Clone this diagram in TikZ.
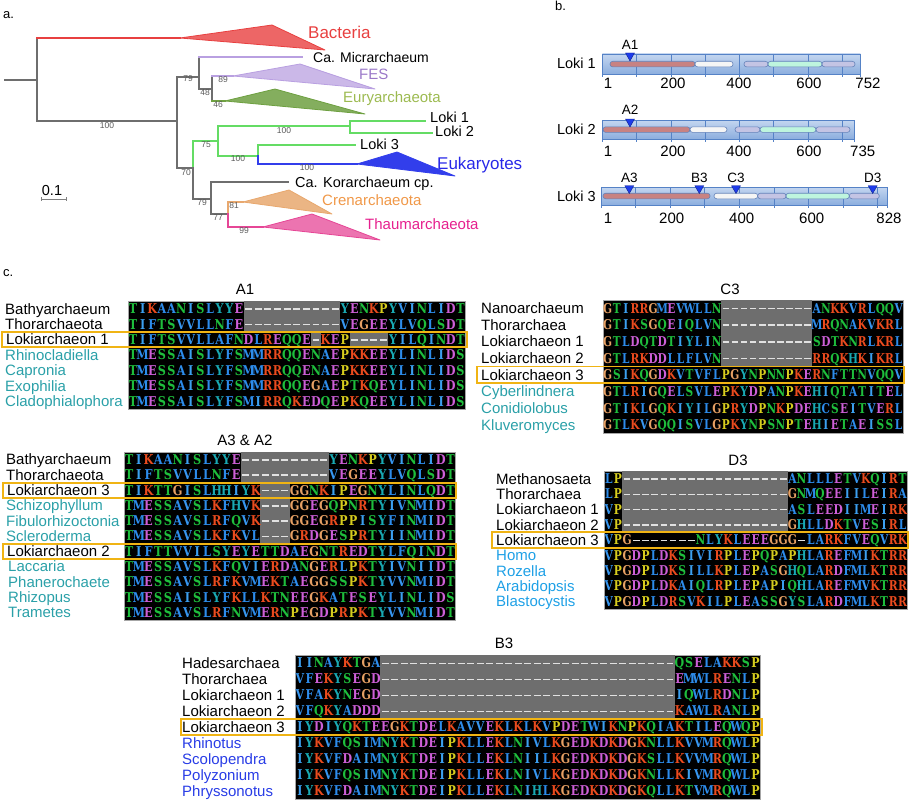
\documentclass[tikz,border=0pt]{standalone}
\usepackage{fontspec}
\setmainfont{Liberation Sans}
\newfontfamily\seqfont{DejaVu Serif}
\usepackage{graphicx}
% amino-acid colours (Clustal-like)
\definecolor{aaA}{RGB}{45,140,235}\definecolor{aaI}{RGB}{60,160,240}
\definecolor{aaL}{RGB}{45,140,235}\definecolor{aaM}{RGB}{45,140,235}
\definecolor{aaF}{RGB}{45,140,235}\definecolor{aaW}{RGB}{45,140,235}
\definecolor{aaV}{RGB}{55,150,240}\definecolor{aaC}{RGB}{45,140,235}
\definecolor{aaK}{RGB}{235,75,30}\definecolor{aaR}{RGB}{235,75,30}
\definecolor{aaD}{RGB}{205,95,215}\definecolor{aaE}{RGB}{205,95,215}
\definecolor{aaN}{RGB}{30,190,60}\definecolor{aaQ}{RGB}{30,190,60}
\definecolor{aaS}{RGB}{30,190,60}\definecolor{aaT}{RGB}{30,190,60}
\definecolor{aaH}{RGB}{25,170,180}\definecolor{aaY}{RGB}{25,170,180}
\definecolor{aaG}{RGB}{230,160,100}\definecolor{aaP}{RGB}{215,205,30}
\definecolor{dashc}{RGB}{225,225,225}
\definecolor{gapc}{RGB}{110,110,110}
\definecolor{hlor}{RGB}{240,180,20}
\definecolor{euteal}{RGB}{42,160,168}
\definecolor{eulblue}{RGB}{30,160,230}
\definecolor{eublue}{RGB}{40,60,230}
\definecolor{bootc}{RGB}{90,90,90}
\definecolor{brgray}{RGB}{110,110,110}
\definecolor{brred}{RGB}{232,64,64}
\definecolor{brlav}{RGB}{185,160,225}
\definecolor{brgreen}{RGB}{100,220,100}
\definecolor{breury}{RGB}{110,160,65}
\definecolor{brblue}{RGB}{50,62,235}
\definecolor{brorange}{RGB}{232,168,110}
\definecolor{brpink}{RGB}{230,70,150}
\definecolor{bartop}{RGB}{196,214,240}
\definecolor{barbot}{RGB}{140,174,222}
\definecolor{barline}{RGB}{85,130,198}
\definecolor{pred}{RGB}{200,130,130}
\definecolor{pwhite}{RGB}{245,245,245}
\definecolor{plav}{RGB}{196,196,228}
\definecolor{pmint}{RGB}{190,245,222}
\definecolor{pline}{RGB}{100,130,185}
\definecolor{tricol}{RGB}{30,60,235}

\newlength\alncw
\newcommand\alnsc{0.8}
\newcommand\aln[2]{\setlength\alncw{#1pt}\pgfmathsetmacro\alnsc{#1/11.6}\alnloop#2\relax}
\def\alnloop#1{\ifx\relax#1\else\alnch{#1}\expandafter\alnloop\fi}
\newcommand\alnch[1]{\makebox[\alncw]{\ifx-#1\textcolor{dashc}{\rule[3.8pt]{0.72\alncw}{1.6pt}}\else\textcolor{aa#1}{\scalebox{\alnsc}[1]{#1}}\fi}}
% #1 name, #2 label x, #3 colour, #4 label, #5 seq x, #6 y centre, #7 pitch, #8 sequence
\newcommand\alnrow[8]{%
  \node[lbl,text=#3] (#1l) at ({#2},{#6+5.3}) {#4};
  \node[seqs] (#1s) at ({#5},{#6+4.9}) {\aln{#7}{#8}};}

\begin{document}
\begin{tikzpicture}[x=1pt,y=-1pt,
  every node/.style={inner sep=0pt},
  lbl/.style={anchor=base west,font=\fontsize{15}{18}\selectfont},
  seqs/.style={anchor=base west,font=\seqfont\bfseries\fontsize{13.5}{16}\selectfont},
  ttl/.style={anchor=base,font=\fontsize{15}{18}\selectfont},
  boot/.style={anchor=center,font=\fontsize{8.5}{10}\selectfont,text=bootc},
  tax/.style={anchor=base west,font=\fontsize{14.5}{17}\selectfont},
  panel/.style={anchor=base west,font=\fontsize{13}{15}\selectfont},
  alnbox/.style={fill=black,draw=gray!70,line width=0.6pt},
  gapbox/.style={fill=gapc},
  hl/.style={draw=hlor,line width=1.8pt},
  br/.style={line width=1.1pt,line cap=rect},
  clade/.style={line width=0.8pt,line join=round},
  bar/.style={draw=barline,top color=bartop,bottom color=barbot,line width=0.8pt},
  tick/.style={draw=barline,line width=0.8pt},
  pill/.style={draw=pline,line width=0.6pt,rounded corners=2.7pt},
  tri/.style={fill=tricol,draw=tricol!60!black,line width=0.4pt},
  tkl/.style={anchor=base,font=\fontsize{15}{18}\selectfont},
  mkl/.style={anchor=base,font=\fontsize{13.5}{16}\selectfont},
  lokl/.style={anchor=base east,font=\fontsize{14.5}{17}\selectfont}
]
\useasboundingbox (0,0) rectangle (910,800);

%================ panel a ================
\node[panel] (pa) at (3,18.6) {a.};
% branches
\draw[br,brgray] (5,80) -- (37,80);
\draw[br,brgray] (37,38) -- (37,121);
\draw[br,brred] (37,38) -- (180,38);
\draw[clade,draw=brred,fill=brred!80] (180,38) -- (272,25) -- (325,50) -- cycle;
\draw[br,brgray] (37,121) -- (177,121);
\draw[br,brgray] (177,77) -- (177,168);
\draw[br,brgray] (177,77) -- (199,77);
\draw[br,brgray] (199,57) -- (199,89);
\draw[br,brlav] (199,57) -- (302,57);
\draw[br,brgray] (199,89) -- (212,89);
\draw[br,brgray] (212,76) -- (212,101);
\draw[br,brlav] (212,76) -- (233,76);
\draw[clade,draw=brlav,fill=brlav!75] (233,76) -- (300,64) -- (375,89) -- cycle;
\draw[br,breury] (212,101) -- (225,101);
\draw[clade,draw=breury,fill=breury!85] (225,101) -- (275,89) -- (365,114) -- cycle;
\draw[br,brgray] (177,168) -- (193,168);
\draw[br,brgreen] (193,141) -- (193,168);
\draw[br,brgray] (193,168) -- (193,199);
\draw[br,brgreen] (193,141) -- (218,141);
\draw[br,brgreen] (218,126) -- (218,156);
\draw[br,brgreen] (218,126) -- (350,126);
\draw[br,brgreen] (350,121) -- (350,133);
\draw[br,brgreen] (350,121) -- (425,121);
\draw[br,brgreen] (350,133) -- (432,133);
\draw[br,brgreen] (218,156) -- (258,156);
\draw[br,brgreen] (258,145) -- (258,156);
\draw[br,brblue] (258,156) -- (258,164);
\draw[br,brgreen] (258,145) -- (355,145);
\draw[br,brblue] (258,164) -- (357,164);
\draw[clade,draw=brblue,fill=brblue] (357,164) -- (397,152) -- (455,176) -- cycle;
\draw[br,brgray] (193,199) -- (211,199);
\draw[br,brgray] (211,182) -- (211,214);
\draw[br,brgray] (211,182) -- (288,182);
\draw[br,brgray] (211,214) -- (228,214);
\draw[br,brorange] (228,202) -- (228,214);
\draw[br,brpink] (228,214) -- (228,227);
\draw[br,brorange] (228,202) -- (243,202);
\draw[clade,draw=brorange,fill=brorange!85] (243,202) -- (289,190) -- (332,214) -- cycle;
\draw[br,brpink] (228,227) -- (263,227);
\draw[clade,draw=brpink,fill=brpink!75] (263,227) -- (312,214) -- (380,240) -- cycle;
% taxon labels
\node[tax,font=\fontsize{17}{20}\selectfont,text=brred] (tbac) at (308,38.1) {Bacteria};
\node[tax,font=\fontsize{14}{17}\selectfont] (tmic) at (313,63) {Ca. Micrarchaeum};
\node[tax,font=\fontsize{15}{18}\selectfont,text={rgb,255:red,154;green,120;blue,200}] (tfes) at (359,79.4) {FES};
\node[tax,font=\fontsize{15}{18}\selectfont,text={rgb,255:red,156;green,186;blue,80}] (teur) at (343,102.4) {Euryarchaeota};
\node[tax] (tl1) at (430,122.2) {Loki 1};
\node[tax] (tl2) at (435,136.2) {Loki 2};
\node[tax] (tl3) at (360,149.2) {Loki 3};
\node[tax,font=\fontsize{17}{20}\selectfont,text={rgb,255:red,40;green,40;blue,232}] (teuk) at (437,169.1) {Eukaryotes};
\node[tax] (tkor) at (295,187.2) {Ca. Korarchaeum cp.};
\node[tax,font=\fontsize{15}{18}\selectfont,text={rgb,255:red,240;green,152;blue,72}] (tcre) at (322,205.4) {Crenarchaeota};
\node[tax,font=\fontsize{15}{18}\selectfont,text={rgb,255:red,230;green,32;blue,142}] (ttha) at (365,229.4) {Thaumarchaeota};
% bootstrap values
\node[boot] (b1) at (188,79) {79};
\node[boot] (b2) at (223,80) {89};
\node[boot] (b3) at (205,93) {48};
\node[boot] (b4) at (218,105) {46};
\node[boot] (b5) at (107,126) {100};
\node[boot] (b6) at (284,131) {100};
\node[boot] (b7) at (206,145) {75};
\node[boot] (b8) at (238,159) {100};
\node[boot] (b9) at (307,168) {100};
\node[boot] (b10) at (186,173) {70};
\node[boot] (b11) at (202,203) {79};
\node[boot] (b12) at (234,206) {81};
\node[boot] (b13) at (218,218) {77};
\node[boot] (b14) at (244,231) {99};
% scale bar
\node[tkl,font=\fontsize{14.5}{17}\selectfont] (sc) at (52,195.2) {0.1};
\draw[line width=0.7pt,gray] (41,199) -- (66,199);
\draw[line width=0.6pt,gray] (41,197.3) -- (41,200.7) (66,197.3) -- (66,200.7);

%================ panel b ================
\node[panel] (pb) at (555,11) {b.};
% Loki 1
\path[bar] (602.3,54) rectangle (860.3,74);
\foreach \k in {0,...,7} \draw[tick] ({602.3+34.3*\k},54) -- ({602.3+34.3*\k},77);
\draw[tick] (860.3,54) -- (860.3,77);
\draw[pill,fill=pred] (610,61.3) rectangle (695,66.9);
\draw[pill,fill=pwhite] (695,61.3) rectangle (733,66.9);
\draw[pill,fill=plav] (744,61.3) rectangle (768,66.9);
\draw[pill,fill=pmint] (768,61.3) rectangle (822,66.9);
\draw[pill,fill=plav] (822,61.3) rectangle (855,66.9);
\fill[tri] (625.5,53) -- (634.5,53) -- (630,61) -- cycle;
\node[mkl] (ma1) at (630,49.8) {A1};
\node[lokl] (lk1) at (596,68.2) {Loki 1};
\node[tkl] (t11) at (608,88.4) {1};
\node[tkl] (t12) at (673,88.4) {200};
\node[tkl] (t13) at (739,88.4) {400};
\node[tkl] (t14) at (809,88.4) {600};
\node[tkl] (t15) at (868,88.4) {752};
% Loki 2
\path[bar] (602.3,120) rectangle (854.4,139);
\foreach \k in {0,...,7} \draw[tick] ({602.3+34.3*\k},120) -- ({602.3+34.3*\k},142);
\draw[tick] (854.4,120) -- (854.4,142);
\draw[pill,fill=pred] (603,126.8) rectangle (690,132.4);
\draw[pill,fill=pwhite] (690,126.8) rectangle (727,132.4);
\draw[pill,fill=plav] (735,126.8) rectangle (760,132.4);
\draw[pill,fill=pmint] (760,126.8) rectangle (816,132.4);
\draw[pill,fill=plav] (816,126.8) rectangle (850,132.4);
\fill[tri] (625.5,119) -- (634.5,119) -- (630,127) -- cycle;
\node[mkl] (ma2) at (630,114.8) {A2};
\node[lokl] (lk2) at (596,134.7) {Loki 2};
\node[tkl] (t21) at (608,156.4) {1};
\node[tkl] (t22) at (673,156.4) {200};
\node[tkl] (t23) at (739,156.4) {400};
\node[tkl] (t24) at (809,156.4) {600};
\node[tkl] (t25) at (862.7,156.4) {735};
% Loki 3
\path[bar] (601,187) rectangle (887.5,205);
\foreach \k in {0,...,8} \draw[tick] ({601+34.6*\k},187) -- ({601+34.6*\k},208);
\draw[tick] (887.5,187) -- (887.5,208);
\draw[pill,fill=pred] (603,193.2) rectangle (710,198.8);
\draw[pill,fill=pwhite] (714,193.2) rectangle (757.7,198.8);
\draw[pill,fill=plav] (757.7,193.2) rectangle (786,198.8);
\draw[pill,fill=pmint] (786,193.2) rectangle (849.3,198.8);
\draw[pill,fill=plav] (849.3,193.2) rectangle (879.3,198.8);
\fill[tri] (624.8,185.7) -- (633.8,185.7) -- (629.3,193.5) -- cycle;
\fill[tri] (694.8,185.7) -- (703.8,185.7) -- (699.3,193.5) -- cycle;
\fill[tri] (731.5,185.7) -- (740.5,185.7) -- (736,193.5) -- cycle;
\fill[tri] (868.2,185.7) -- (877.2,185.7) -- (872.7,193.5) -- cycle;
\node[mkl] (ma3) at (629.3,182.1) {A3};
\node[mkl] (mb3) at (699.3,182.1) {B3};
\node[mkl] (mc3) at (736,182.1) {C3};
\node[mkl] (md3) at (872.7,182.1) {D3};
\node[lokl] (lk3) at (596,201.2) {Loki 3};
\node[tkl] (t31) at (608,223.7) {1};
\node[tkl] (t32) at (671.7,223.7) {200};
\node[tkl] (t33) at (741.7,223.7) {400};
\node[tkl] (t34) at (811.7,223.7) {600};
\node[tkl] (t35) at (889,223.7) {828};

%================ panel c ================
\node[panel] (pc) at (3,276.6) {c.};

% ---- A1 ----
\node[ttl] (ta1) at (245,294) {A1};
\draw[alnbox] (128,301) rectangle (465,409);
\fill[gapbox] (243.6,301) rectangle (339.9,331.9);
\fill[gapbox] (311,331.9) rectangle (320.6,347.2);
\fill[gapbox] (349.5,331.9) rectangle (388,347.2);
\alnrow{a1r1}{5}{black}{Bathyarchaeum}{128}{308.7}{9.63}{TIKAANISLYYE----------YENKPYVINLIDT}
\alnrow{a1r2}{5}{black}{Thorarchaeota}{128}{324.1}{9.63}{TIFTSVVLLNFE----------VEGEEYLVQLSDT}
\alnrow{a1r3}{6}{black}{Lokiarchaeon 1}{128}{339.5}{9.63}{TIFTSVVLLAFNDLREQQE-KEP----YILQINDT}
\alnrow{a1r4}{5}{euteal}{Rhinocladiella}{128}{355.0}{9.63}{TMESSAISLYFSMMRRQQENAEPKKEEYLINLIDS}
\alnrow{a1r5}{5}{euteal}{Capronia}{128}{370.4}{9.63}{TMESSAISLYFSMMRRQQENAEPKKEEYLINLIDS}
\alnrow{a1r6}{5}{euteal}{Exophilia}{128}{385.9}{9.63}{TMESSAISLYFSMMRRQQEGAEPTKQEYLINLIDS}
\alnrow{a1r7}{5}{euteal}{Cladophialophora}{128}{401.3}{9.63}{TMESSAISLYFSMIRRQKEDQEPKQEEYLINLIDS}
\draw[hl] (2,331.8) rectangle (467,347.2);

% ---- A3 & A2 ----
\node[ttl] (ta3) at (245,445) {A3 \& A2};
\draw[alnbox] (124,452) rectangle (455,620);
\fill[gapbox] (240.9,452) rectangle (328.5,482.5);
\fill[gapbox] (260.4,482.5) rectangle (289.6,543.6);
\alnrow{a3r1}{6}{black}{Bathyarchaeum}{124}{459.6}{9.74}{TIKAANISLYYE---------YENKPYVINLIDT}
\alnrow{a3r2}{6}{black}{Thorarchaeota}{124}{474.9}{9.74}{TIFTSVVLLNFE---------VEGEEYLVQLSDT}
\alnrow{a3r3}{7}{black}{Lokiarchaeon 3}{124}{490.2}{9.74}{TIKTTGISLHHIYK---GGNKIPEGNYLINLQDT}
\alnrow{a3r4}{6}{euteal}{Schizophyllum}{124}{505.5}{9.74}{TMESSAVSLKFHVK---GGEGQPNRTYIVNMIDT}
\alnrow{a3r5}{6}{euteal}{Fibulorhizoctonia}{124}{520.7}{9.74}{TMESSAVSLRFQVK---GGEGRPPISYFINMIDT}
\alnrow{a3r6}{6}{euteal}{Scleroderma}{124}{536.0}{9.74}{TMESSAVSLKFKVL---GRDGESPRTYIINMIDT}
\alnrow{a3r7}{7}{black}{Lokiarchaeon 2}{124}{551.3}{9.74}{TIFTTVVILSYEYETTDAEGNTREDTYLFQINDT}
\alnrow{a3r8}{8}{euteal}{Laccaria}{124}{566.5}{9.74}{TMESSAVSLKFQVIERDANGERLPKTYIVNIIDT}
\alnrow{a3r9}{8}{euteal}{Phanerochaete}{124}{581.8}{9.74}{TMESSAVSLRFKVMEKTAEGGSSPKTYVVNMIDT}
\alnrow{a3r10}{8}{euteal}{Rhizopus}{124}{597.1}{9.74}{TMESSAISLYFKLLKTNEEGKATESEYLINLIDS}
\alnrow{a3r11}{8}{euteal}{Trametes}{124}{612.4}{9.74}{TMESSAVSLRFNVMERNPEGDPRPKTYVVNMIDT}
\draw[hl] (3,482.6) rectangle (456,497.8);
\draw[hl] (3,543.7) rectangle (456,558.9);

% ---- C3 ----
\node[ttl] (tc3) at (730,294) {C3};
\draw[alnbox] (603,300) rectangle (903,433);
\fill[gapbox] (721.2,300) rectangle (812,366.5);
\alnrow{c3r1}{481}{black}{Nanoarchaeum}{603}{308.3}{9.09}{GTIRRGMEVWLLN----------ANKKVRLQQV}
\alnrow{c3r2}{481}{black}{Thorarchaea}{603}{324.9}{9.09}{GTIKSGQEIQLVN----------MRQNAKVKRL}
\alnrow{c3r3}{481}{black}{Lokiarchaeon 1}{603}{341.6}{9.09}{GTLDQTDTIYLIN----------SDTKNRLKRL}
\alnrow{c3r4}{481}{black}{Lokiarchaeon 2}{603}{358.2}{9.09}{GTLRKDDLLFLVN----------RRQKHKIKRL}
\alnrow{c3r5}{481}{black}{Lokiarchaeon 3}{603}{374.8}{9.09}{GSIKQGDKVTVFLPGYNPNNPKERNFTTNVQQV}
\alnrow{c3r6}{481}{euteal}{Cyberlindnera}{603}{391.4}{9.09}{GTLRIGQELSVLEPKYDPANPKEHIQTATITEL}
\alnrow{c3r7}{481}{euteal}{Conidiolobus}{603}{408.1}{9.09}{GTIKLGQKIYILGPRYDPNKPDEHCSEITVERL}
\alnrow{c3r8}{481}{euteal}{Kluveromyces}{603}{424.7}{9.09}{GTLKVGQQISVLGPKYNPSNPTEHIETAEISSL}
\draw[hl] (477,366.5) rectangle (904,383.1);

% ---- D3 ----
\node[ttl] (td3) at (738,465) {D3};
\draw[alnbox] (604,471) rectangle (907,609);
\fill[gapbox] (622.4,471) rectangle (787.6,532.3);
\alnrow{d3r1}{496}{black}{Methanosaeta}{604}{478.7}{9.18}{LP------------------ANLLLETVKQIRT}
\alnrow{d3r2}{496}{black}{Thorarchaea}{604}{494.0}{9.18}{LP------------------GNMQEEIILEIRA}
\alnrow{d3r3}{496}{black}{Lokiarchaeon 1}{604}{509.3}{9.18}{VP------------------ASLEEDIIMEIRK}
\alnrow{d3r4}{496}{black}{Lokiarchaeon 2}{604}{524.7}{9.18}{VP------------------GHLLDKTVESIRL}
\alnrow{d3r5}{496}{black}{Lokiarchaeon 3}{604}{540.0}{9.18}{VPG-------NLYKLEEEGGG-LARKFVEQVRK}
\alnrow{d3r6}{496}{eulblue}{Homo}{604}{555.3}{9.18}{VPGDPLDKSIVIRPLEPQPAPHLAREFMIKTRR}
\alnrow{d3r7}{496}{eulblue}{Rozella}{604}{570.7}{9.18}{VPGDPLDKSILLKPLEPASGHQLARDFMLKTRR}
\alnrow{d3r8}{496}{eulblue}{Arabidopsis}{604}{586.0}{9.18}{VPGDPLDKAIQLRPLEPAPIQHLAREFMVKTRR}
\alnrow{d3r9}{496}{eulblue}{Blastocystis}{604}{601.3}{9.18}{VPGDPLDRSVKILPLEASSGYSLARDFMLKTRR}
\draw[hl] (492,532.3) rectangle (908,547.7);

% ---- B3 ----
\node[ttl] (tb3) at (504,648.5) {B3};
\draw[alnbox] (295,655) rectangle (760,799);
\fill[gapbox] (380.4,655) rectangle (674.6,719);
\alnrow{b3r1}{182}{black}{Hadesarchaea}{295}{663}{9.49}{IINAYKTGA-------------------------------QSELAKKSP}
\alnrow{b3r2}{182}{black}{Thorarchaea}{295}{679}{9.49}{VFEKYSEGD-------------------------------EMWLRENLP}
\alnrow{b3r3}{182}{black}{Lokiarchaeon 1}{295}{695}{9.49}{VFAKYNEGD-------------------------------IQWLRDNLP}
\alnrow{b3r4}{182}{black}{Lokiarchaeon 2}{295}{711}{9.49}{VFQKYADDD-------------------------------KAWLRANLP}
\alnrow{b3r5}{182}{black}{Lokiarchaeon 3}{295}{727}{9.49}{IYDIYQKTEEGKTDELKAVVEKLKLKVPDETWIKNPKQIAKTILEQWQP}
\alnrow{b3r6}{182}{eublue}{Rhinotus}{295}{743}{9.49}{IYKVFQSIMNYKTDEIPKLLEKLNIVLKGEDKDKDGKNLLKVVMRQWLP}
\alnrow{b3r7}{182}{eublue}{Scolopendra}{295}{759}{9.49}{IYKVFDAIMNYKTDEIPKLLEKLNIILKGEDKDKDGKSLLKVVMRQWLP}
\alnrow{b3r8}{182}{eublue}{Polyzonium}{295}{775}{9.49}{IYKVFQSIMNYKTDEIPKLLEKLNIVLKGEDKDKDGKNLLKIVMRQWLP}
\alnrow{b3r9}{182}{eublue}{Phryssonotus}{295}{791}{9.49}{IYKVFDAIMNYKTDEIPKLLEKLNIHLKGEDKDKDGKQLLKTVMRQWLP}
\draw[hl] (181,719) rectangle (762,735);
\end{tikzpicture}
\end{document}
